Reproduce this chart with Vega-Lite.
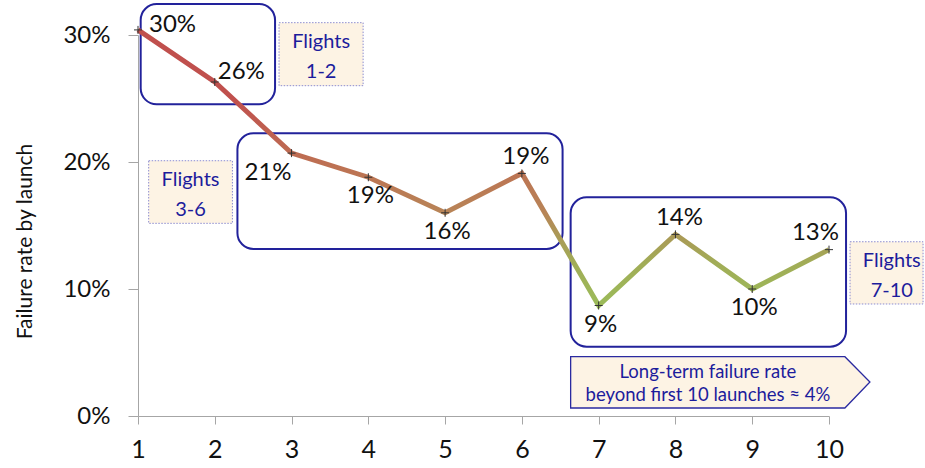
{
  "$schema": "https://vega.github.io/schema/vega-lite/v6.json",
  "width": 691,
  "height": 381,
  "autosize": {"type": "none"},
  "padding": {"left": 138, "top": 35, "right": 96, "bottom": 52},
  "background": "white",
  "config": {
    "view": {"stroke": null},
    "font": "Lato",
    "axis": {"labelFont": "Lato", "titleFont": "Lato", "grid": false}
  },
  "datasets": {
    "rates": [
      {"flight": 1, "rate": 0.304},
      {"flight": 2, "rate": 0.263},
      {"flight": 3, "rate": 0.207},
      {"flight": 4, "rate": 0.188},
      {"flight": 5, "rate": 0.160},
      {"flight": 6, "rate": 0.191},
      {"flight": 7, "rate": 0.087},
      {"flight": 8, "rate": 0.143},
      {"flight": 9, "rate": 0.100},
      {"flight": 10, "rate": 0.131}
    ],
    "groups": [
      {"group": "1-2", "x1": 1.035, "x2": 2.785, "y1": 0.3244, "y2": 0.2454},
      {"group": "3-6", "x1": 2.295, "x2": 6.53, "y1": 0.2226, "y2": 0.1315},
      {"group": "7-10", "x1": 6.635, "x2": 10.222, "y1": 0.1722, "y2": 0.0546}
    ],
    "tags": [
      {"label": "Flights\n1-2", "x1": 2.837, "x2": 3.932, "y1": 0.3097, "y2": 0.2601, "cx": 3.385, "cy": 0.2849},
      {"label": "Flights\n3-6", "x1": 1.139, "x2": 2.23, "y1": 0.201, "y2": 0.1517, "cx": 1.684, "cy": 0.1764},
      {"label": "Flights\n7-10", "x1": 10.274, "x2": 11.225, "y1": 0.1372, "y2": 0.0882, "cx": 10.818, "cy": 0.1127}
    ],
    "longTerm": [
      {"x": 6.635, "top": 0.0467, "bottom": 0.0063},
      {"x": 10.207, "top": 0.0467, "bottom": 0.0063},
      {"x": 10.533, "top": 0.0268, "bottom": 0.0268}
    ],
    "longTermNote": [
      {"label": "Long-term failure rate\nbeyond first 10 launches \u2248 4%", "cx": 8.423, "cy": 0.0272}
    ]
  },
  "layer": [
    {
      "data": {"name": "longTerm"},
      "mark": {"type": "area", "fill": "#fdf3e4", "stroke": "#2a2aa0", "strokeWidth": 1.3, "orient": "vertical"},
      "encoding": {
        "x": {"field": "x", "type": "quantitative", "scale": {"domain": [1, 10]}},
        "y": {"field": "top", "type": "quantitative"},
        "y2": {"field": "bottom"}
      }
    },
    {
      "data": {"name": "longTermNote"},
      "mark": {"type": "text", "fontSize": 18.5, "color": "#1c1c9c", "lineBreak": "\n", "lineHeight": 23, "align": "center", "baseline": "middle", "dy": -9},
      "encoding": {
        "x": {"field": "cx", "type": "quantitative"},
        "y": {"field": "cy", "type": "quantitative"},
        "text": {"field": "label"}
      }
    },
    {
      "data": {"name": "tags"},
      "mark": {"type": "rect", "fill": "#fdf3e4", "stroke": "#8c8cd0", "strokeWidth": 1, "strokeDash": [1.5, 1.5]},
      "encoding": {
        "x": {"field": "x1", "type": "quantitative"},
        "x2": {"field": "x2"},
        "y": {"field": "y1", "type": "quantitative"},
        "y2": {"field": "y2"}
      }
    },
    {
      "data": {"name": "tags"},
      "mark": {"type": "text", "fontSize": 20, "color": "#1c1c9c", "lineBreak": "\n", "lineHeight": 30, "align": "center", "baseline": "middle", "dy": -12},
      "encoding": {
        "x": {"field": "cx", "type": "quantitative"},
        "y": {"field": "cy", "type": "quantitative"},
        "text": {"field": "label"}
      }
    },
    {
      "data": {"name": "groups"},
      "mark": {"type": "rect", "filled": false, "stroke": "#22229b", "strokeWidth": 2, "cornerRadius": 16},
      "encoding": {
        "x": {"field": "x1", "type": "quantitative"},
        "x2": {"field": "x2"},
        "y": {"field": "y1", "type": "quantitative"},
        "y2": {"field": "y2"}
      }
    },
    {
      "data": {"name": "rates"},
      "mark": {
        "type": "line",
        "strokeWidth": 5,
        "clip": false,
        "color": {
          "gradient": "linear",
          "x1": 0, "y1": 0, "x2": 0, "y2": 1,
          "stops": [
            {"offset": 0, "color": "#c0504d"},
            {"offset": 0.25, "color": "#c0504d"},
            {"offset": 0.5, "color": "#bd7253"},
            {"offset": 0.66, "color": "#b88457"},
            {"offset": 0.75, "color": "#aa9a56"},
            {"offset": 0.85, "color": "#a1ad57"},
            {"offset": 1, "color": "#9bbb59"}
          ]
        }
      },
      "encoding": {
        "x": {
          "field": "flight", "type": "quantitative",
          "scale": {"domain": [1, 10], "nice": false, "zero": false},
          "axis": {
            "title": null,
            "values": [1, 2, 3, 4, 5, 6, 7, 8, 9, 10],
            "format": "d",
            "labelFontSize": 25,
            "labelColor": "#111111",
            "labelPadding": 13,
            "tickSize": 8,
            "tickColor": "#a6a6a6",
            "domainColor": "#a6a6a6",
            "labelFlush": false,
            "labelOverlap": false
          }
        },
        "y": {
          "field": "rate", "type": "quantitative",
          "scale": {"domain": [0, 0.3], "nice": false},
          "axis": {
            "title": "Failure rate by launch",
            "titleFontSize": 21,
            "titleFontWeight": "normal",
            "titleColor": "#111111",
            "titleAngle": -90,
            "titleAlign": "center",
            "titleBaseline": "middle",
            "titleX": -113,
            "titleY": 206,
            "values": [0, 0.1, 0.2, 0.3],
            "format": ".0%",
            "labelFontSize": 24,
            "labelColor": "#111111",
            "labelPadding": 18,
            "tickSize": 10,
            "tickColor": "#a6a6a6",
            "domainColor": "#a6a6a6",
            "labelFlush": false,
            "labelOverlap": false
          }
        }
      }
    },
    {
      "data": {"name": "rates"},
      "mark": {"type": "point", "shape": "M-1,0H1M0,-1V1", "size": 64, "filled": false, "stroke": "#333333", "strokeWidth": 1, "opacity": 1},
      "encoding": {
        "x": {"field": "flight", "type": "quantitative"},
        "y": {"field": "rate", "type": "quantitative"}
      }
    },
    {
      "data": {"name": "rates"},
      "transform": [{"filter": "datum.flight == 1"}],
      "mark": {"type": "text", "fontSize": 24, "color": "#111111", "align": "left", "baseline": "middle", "dx": 11, "dy": -5},
      "encoding": {
        "x": {"field": "flight", "type": "quantitative"},
        "y": {"field": "rate", "type": "quantitative"},
        "text": {"field": "rate", "format": ".0%"}
      }
    },
    {
      "data": {"name": "rates"},
      "transform": [{"filter": "datum.flight == 2"}],
      "mark": {"type": "text", "fontSize": 24, "color": "#111111", "align": "left", "baseline": "middle", "dx": 3, "dy": -10},
      "encoding": {
        "x": {"field": "flight", "type": "quantitative"},
        "y": {"field": "rate", "type": "quantitative"},
        "text": {"field": "rate", "format": ".0%"}
      }
    },
    {
      "data": {"name": "rates"},
      "transform": [{"filter": "datum.flight == 3"}],
      "mark": {"type": "text", "fontSize": 24, "color": "#111111", "align": "right", "baseline": "middle", "dx": 0, "dy": 20},
      "encoding": {
        "x": {"field": "flight", "type": "quantitative"},
        "y": {"field": "rate", "type": "quantitative"},
        "text": {"field": "rate", "format": ".0%"}
      }
    },
    {
      "data": {"name": "rates"},
      "transform": [{"filter": "datum.flight == 4 || datum.flight == 5 || datum.flight == 7 || datum.flight == 9"}],
      "mark": {"type": "text", "fontSize": 24, "color": "#111111", "align": "center", "baseline": "middle", "dx": 2, "dy": 19},
      "encoding": {
        "x": {"field": "flight", "type": "quantitative"},
        "y": {"field": "rate", "type": "quantitative"},
        "text": {"field": "rate", "format": ".0%"}
      }
    },
    {
      "data": {"name": "rates"},
      "transform": [{"filter": "datum.flight == 6 || datum.flight == 8"}],
      "mark": {"type": "text", "fontSize": 24, "color": "#111111", "align": "center", "baseline": "middle", "dx": 4, "dy": -16},
      "encoding": {
        "x": {"field": "flight", "type": "quantitative"},
        "y": {"field": "rate", "type": "quantitative"},
        "text": {"field": "rate", "format": ".0%"}
      }
    },
    {
      "data": {"name": "rates"},
      "transform": [{"filter": "datum.flight == 10"}],
      "mark": {"type": "text", "fontSize": 24, "color": "#111111", "align": "right", "baseline": "middle", "dx": 10, "dy": -17},
      "encoding": {
        "x": {"field": "flight", "type": "quantitative"},
        "y": {"field": "rate", "type": "quantitative"},
        "text": {"field": "rate", "format": ".0%"}
      }
    }
  ]
}
